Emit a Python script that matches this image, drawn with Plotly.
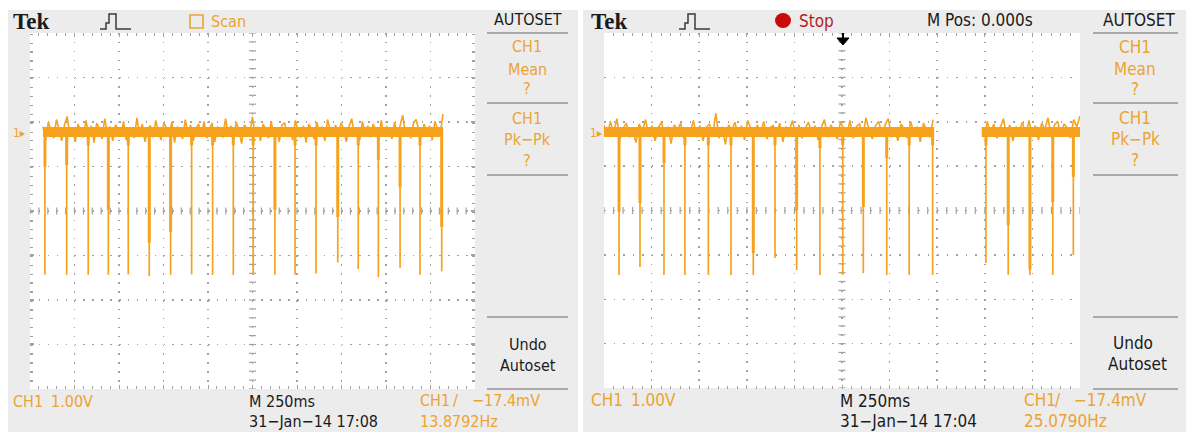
import numpy as np
import plotly.graph_objects as go

W, H = 1186, 432

# ---------------- data (read from the two scope captures) ----------------
# time in seconds (250 ms/div, 10 div), voltage in volts (1 V/div), 0 V = CH1 ground marker
left_segments = [(0.073, 2.320)]
left_spike_t = [0.084, 0.206, 0.327, 0.440, 0.552, 0.670, 0.790, 0.908, 1.026, 1.142,
                1.254, 1.376, 1.489, 1.607, 1.729, 1.844, 1.957, 2.079, 2.191, 2.313]
left_spike_min = [-3.21, -3.21, -3.21, -3.21, -3.20, -3.24, -3.21, -3.20, -3.21, -3.21,
                  -3.21, -3.21, -3.21, -3.18, -2.93, -3.08, -3.26, -3.05, -3.21, -3.13]
left_spike_thick = [-0.79, -0.74, -0.30, -1.75, -0.30, -2.49, -2.25, -0.30, -0.30, -0.30,
                    -0.30, -1.75, -0.30, -0.30, -1.91, -0.30, -0.63, -1.24, -0.30, -2.13]
left_noise = [0.12, -0.18, 0.22, 0.05, -0.14, 0.28, 0.02, -0.20, 0.16, 0.35, -0.08, 0.10, -0.22, 0.18, 0.04, -0.12, 0.26, -0.06, 0.14, -0.24,
              0.20, 0.08, -0.16, 0.30, -0.02, 0.12, -0.20, 0.16, 0.06, -0.10, 0.24, -0.18, 0.10, 0.02, -0.14, 0.32, -0.06, 0.18, -0.22, 0.08,
              0.14, -0.12, 0.26, 0.00, -0.18, 0.20, 0.10, -0.08, 0.22, -0.24, 0.12, 0.04, -0.16, 0.28, -0.04, 0.16, -0.20, 0.08, 0.18, -0.10,
              0.24, -0.14, 0.06, 0.20, -0.22, 0.12, 0.02, -0.12, 0.30, -0.06, 0.14, -0.18, 0.22, 0.04, -0.26, 0.16, 0.08, -0.10, 0.34, -0.04,
              0.12, -0.20, 0.18, 0.06, -0.14, 0.24, -0.08, 0.10, -0.22, 0.16, 0.20, -0.06, 0.08, -0.18, 0.26, 0.02, -0.12, 0.14, -0.24, 0.18,
              0.06, -0.16, 0.22, -0.02, 0.12, -0.20, 0.28, 0.04, -0.10, 0.16, -0.14, 0.20, 0.08, -0.22, 0.12, 0.30, -0.06, 0.10, -0.18, 0.24,
              -0.04, 0.14, -0.12, 0.18, 0.02, -0.20, 0.26, -0.08, 0.12, 0.06, -0.16, 0.22, -0.10, 0.16, 0.38, -0.06, 0.10, -0.14, 0.20, 0.28,
              0.04, -0.12, 0.18, -0.08, 0.14, -0.18, 0.24, 0.06, -0.04, 0.40]

right_segments = [(0.0, 1.733), (1.984, 2.5)]
right_spike_t = [0.079, 0.189, 0.315, 0.425, 0.548, 0.667, 0.784, 0.898, 1.012, 1.134,
                 1.254, 1.362, 1.485, 1.603, 1.726, 2.006, 2.123, 2.237, 2.357, 2.465]
right_spike_min = [-3.22, -3.04, -3.22, -3.22, -3.22, -3.22, -3.22, -2.84, -3.11, -3.22,
                   -3.22, -3.18, -3.22, -3.22, -3.22, -2.95, -3.22, -3.22, -3.22, -2.77]
right_spike_thick = [-1.80, -1.60, -0.70, -0.30, -0.30, -0.30, -2.73, -0.30, -1.76, -0.36,
                     -0.30, -1.69, -0.59, -0.30, -0.30, -0.30, -2.10, -3.10, -1.58, -1.01]
right_noise = [0.16, -0.10, 0.24, -0.04, 0.30, -0.16, 0.08, 0.20, -0.12, 0.06, -0.24, 0.18, 0.02, 0.28, -0.08, 0.14, -0.20, 0.10, 0.22, -0.06,
               0.12, -0.26, 0.16, 0.04, 0.20, -0.14, 0.08, -0.02, 0.26, -0.12, 0.14, -0.20, 0.10, 0.18, -0.06, 0.42, -0.14, 0.12, -0.28, 0.16,
               0.04, 0.22, -0.10, 0.14, -0.18, 0.26, 0.06, -0.12, 0.16, -0.04, 0.24, -0.16, 0.10, 0.14, -0.08, 0.20, -0.22, 0.12, 0.04, 0.26,
               -0.10, 0.16, -0.14, 0.08, 0.22, -0.04, 0.14, -0.18, 0.10, 0.28, -0.12, 0.16, 0.02, -0.16, 0.22, 0.08, -0.06, 0.26, -0.14, 0.12,
               0.18, -0.10, 0.32, 0.04, -0.16, 0.14, 0.24, -0.08, 0.16, 0.30, -0.12, 0.10, -0.20, 0.18, 0.06, -0.14, 0.24, -0.04, 0.12, -0.22,
               0.20, 0.02, -0.12, 0.28, -0.06, 0.16, -0.18, 0.10, 0.22, -0.10, 0.14, 0.06, -0.20, 0.26, -0.02, 0.12, -0.16, 0.20, 0.08, -0.12,
               0.24, -0.06, 0.18, -0.14, 0.10, 0.30, -0.08, 0.16, -0.20, 0.12, 0.04, 0.22, -0.10, 0.26, -0.04, 0.14, -0.18, 0.20, 0.06, 0.32,
               -0.12, 0.16, 0.24, -0.06, 0.18, 0.10, -0.14, 0.28, 0.12, 0.36]

# ---------------- style ----------------
TRACE = '#f6a21d'
ORANGE_TXT = '#eca331'
PANEL = '#ececec'
GRID = '#a2a2a2'
SANS = 'DejaVu Sans Condensed, Liberation Sans Narrow, sans-serif'
SERIF = 'Liberation Serif, DejaVu Serif, serif'


def X(px):
    return px / W


def Y(py):
    return 1 - py / H


def build_traces(segments, spike_t, spike_min, spike_thick, noise, xa, ya):
    bx, by = [], []
    for a, b in segments:
        bx += [a, b, None]
        by += [0, 0, None]
    tn = np.linspace(segments[0][0], segments[-1][1], len(noise))
    nx, ny = [], []
    prev_in = False
    for t, v in zip(tn, noise):
        inside = any(a <= t <= b for a, b in segments)
        if inside:
            nx.append(t)
            ny.append(v)
        elif prev_in:
            nx.append(None)
            ny.append(None)
        prev_in = inside
    sx, sy, tx, ty = [], [], [], []
    for t, m, th in zip(spike_t, spike_min, spike_thick):
        sx += [t, t, None]
        sy += [0.05, m, None]
        tx += [t, t, None]
        ty += [0.1, th, None]
    common = dict(xaxis=xa, yaxis=ya, mode='lines', hoverinfo='skip', showlegend=False)
    return [
        go.Scatter(x=bx, y=by, line=dict(color=TRACE, width=10), **common),
        go.Scatter(x=nx, y=ny, line=dict(color=TRACE, width=1.6), **common),
        go.Scatter(x=sx, y=sy, line=dict(color=TRACE, width=1.7), **common),
        go.Scatter(x=tx, y=ty, line=dict(color=TRACE, width=3), **common),
    ]


def crosshair(xa, ya, yr):
    ymid = yr[1] - 4
    yt = [yr[0] + k * 0.2 for k in range(41)]
    xt = [k * 0.05 for k in range(51)]
    common = dict(xaxis=xa, yaxis=ya, mode='markers', hoverinfo='skip', showlegend=False)
    return [
        go.Scatter(x=[1.25] * len(yt), y=yt,
                   marker=dict(symbol='line-ew', size=5, line=dict(color=GRID, width=1.2)), **common),
        go.Scatter(x=xt, y=[ymid] * len(xt),
                   marker=dict(symbol='line-ns', size=5, line=dict(color=GRID, width=1.2)), **common),
    ]


fig = go.Figure()

yr_left = [-5.775, 2.225]
yr_right = [-5.769, 2.231]

for tr in crosshair('x', 'y', yr_left) + crosshair('x2', 'y2', yr_right):
    fig.add_trace(tr)
for tr in build_traces(left_segments, left_spike_t, left_spike_min, left_spike_thick,
                       left_noise, 'x', 'y'):
    fig.add_trace(tr)
for tr in build_traces(right_segments, right_spike_t, right_spike_min, right_spike_thick,
                       right_noise, 'x2', 'y2'):
    fig.add_trace(tr)


def xax(domain, dash):
    return dict(domain=domain, range=[0, 2.5], tick0=0, dtick=0.25, showgrid=True,
                gridcolor=GRID, griddash=dash, gridwidth=1.5, zeroline=False,
                showticklabels=False, ticks='inside', ticklen=4, tickcolor=GRID,
                mirror='ticks', showline=False, fixedrange=True,
                minor=dict(dtick=0.05, ticks='inside', ticklen=3, tickcolor=GRID, showgrid=False))


def yax(domain, rng, dash):
    return dict(domain=domain, range=rng, tick0=rng[0], dtick=1, showgrid=True,
                gridcolor=GRID, griddash=dash, gridwidth=1.5, zeroline=False,
                showticklabels=False, ticks='inside', ticklen=4, tickcolor=GRID,
                mirror='ticks', showline=False, fixedrange=True,
                minor=dict(dtick=0.2, ticks='inside', ticklen=3, tickcolor=GRID, showgrid=False))


shapes = []
# panels
shapes.append(dict(type='rect', xref='paper', yref='paper', x0=X(8), x1=X(578), y0=Y(432), y1=Y(10),
                   fillcolor=PANEL, line=dict(width=0), layer='below'))
shapes.append(dict(type='rect', xref='paper', yref='paper', x0=X(583), x1=X(1186), y0=Y(432), y1=Y(10),
                   fillcolor=PANEL, line=dict(width=0), layer='below'))
# screen areas
shapes.append(dict(type='rect', xref='paper', yref='paper', x0=X(30), x1=X(475), y0=Y(389), y1=Y(33),
                   fillcolor='white', line=dict(width=0), layer='below'))
shapes.append(dict(type='rect', xref='paper', yref='paper', x0=X(604), x1=X(1080), y0=Y(388), y1=Y(33),
                   fillcolor='white', line=dict(width=0), layer='below'))

# menu separators
for x0, x1 in [(487, 568), (1093, 1178)]:
    for py in [33, 103, 175, 317, 389]:
        shapes.append(dict(type='line', xref='paper', yref='paper', x0=X(x0), x1=X(x1),
                           y0=Y(py), y1=Y(py), line=dict(color='#a8a8a8', width=2)))


def path_px(pts):
    s = ''
    for i, (px, py) in enumerate(pts):
        s += ('M' if i == 0 else 'L') + f'{X(px):.5f},{Y(py):.5f} '
    return s


# pulse icons
for ox in [100, 679]:
    shapes.append(dict(type='path', xref='paper', yref='paper',
                       path=path_px([(ox, 29), (ox + 6, 29), (ox + 6, 23), (ox + 9, 23), (ox + 9, 14),
                                     (ox + 16, 14), (ox + 16, 29), (ox + 31, 29)]),
                       line=dict(color='#3a3a3a', width=1.5)))
# scan square
shapes.append(dict(type='rect', xref='paper', yref='paper', x0=X(190), x1=X(203), y0=Y(28), y1=Y(15),
                   line=dict(color=ORANGE_TXT, width=1.6)))
# stop marker
shapes.append(dict(type='circle', xref='paper', yref='paper', x0=X(775), x1=X(791), y0=Y(28), y1=Y(13),
                   fillcolor='#c80a0a', line=dict(width=0)))
# trigger position arrow
shapes.append(dict(type='path', xref='paper', yref='paper',
                   path=path_px([(837, 38), (849, 38), (843, 45)]) + 'Z',
                   fillcolor='black', line=dict(color='black', width=1)))
shapes.append(dict(type='line', xref='paper', yref='paper', x0=X(843), x1=X(843), y0=Y(33), y1=Y(39),
                   line=dict(color='black', width=2)))

ann = []


def text(t, px, py, size=16, color='#1a1a1a', anchor='left', family=SANS, bold=False):
    if bold:
        t = '<b>' + t + '</b>'
    ann.append(dict(text=t, x=X(px), y=Y(py), xref='paper', yref='paper', xanchor=anchor,
                    yanchor='middle', showarrow=False, font=dict(size=size, color=color, family=family)))


# left scope
text('Tek', 11, 21, size=23, family=SERIF, bold=True)
text('Scan', 209, 21, color=ORANGE_TXT)
text('AUTOSET', 528, 20, anchor='center')
text('CH1', 527, 47, color=ORANGE_TXT, anchor='center')
text('Mean', 527, 69, color=ORANGE_TXT, anchor='center')
text('?', 527, 89, color=ORANGE_TXT, anchor='center')
text('CH1', 527, 118, color=ORANGE_TXT, anchor='center')
text('Pk−Pk', 527, 139, color=ORANGE_TXT, anchor='center')
text('?', 527, 160, color=ORANGE_TXT, anchor='center')
text('Undo', 528, 344, anchor='center')
text('Autoset', 528, 365, anchor='center')
text('1▸', 11, 133, size=12, color=ORANGE_TXT)
text('CH1', 11, 401, color=ORANGE_TXT)
text('1.00V', 49, 401, color=ORANGE_TXT)
text('M 250ms', 247, 401)
text('31−Jan−14 17:08', 247, 421)
text('CH1', 418, 400, color=ORANGE_TXT)
text('/', 456, 400, color=ORANGE_TXT, anchor='center')
text('−17.4mV', 470, 400, color=ORANGE_TXT)
text('13.8792Hz', 418, 421, color=ORANGE_TXT)

# right scope
RS = 17
text('Tek', 589, 21, size=23, family=SERIF, bold=True)
text('Stop', 797, 21, size=RS, color='#b41e1e')
text('M Pos: 0.000s', 980, 20, size=RS, anchor='center')
text('AUTOSET', 1139, 20, size=RS, anchor='center')
text('CH1', 1135, 47, size=RS, color=ORANGE_TXT, anchor='center')
text('Mean', 1135, 69, size=RS, color=ORANGE_TXT, anchor='center')
text('?', 1135, 89, size=RS, color=ORANGE_TXT, anchor='center')
text('CH1', 1135, 118, size=RS, color=ORANGE_TXT, anchor='center')
text('Pk−Pk', 1135, 139, size=RS, color=ORANGE_TXT, anchor='center')
text('?', 1135, 160, size=RS, color=ORANGE_TXT, anchor='center')
text('Undo', 1133, 343, size=RS, anchor='center')
text('Autoset', 1137, 364, size=RS, anchor='center')
text('1▸', 588, 133, size=12, color=ORANGE_TXT)
text('CH1', 589, 400, size=RS, color=ORANGE_TXT)
text('1.00V', 629, 400, size=RS, color=ORANGE_TXT)
text('M 250ms', 838, 401, size=RS)
text('31−Jan−14 17:04', 838, 421, size=RS)
text('CH1', 1022, 400, size=RS, color=ORANGE_TXT)
text('/', 1058, 400, size=RS, color=ORANGE_TXT, anchor='center')
text('−17.4mV', 1072, 400, size=RS, color=ORANGE_TXT)
text('25.0790Hz', 1022, 421, size=RS, color=ORANGE_TXT)

fig.update_layout(
    width=W, height=H, margin=dict(l=0, r=0, t=0, b=0),
    paper_bgcolor='white', plot_bgcolor='rgba(0,0,0,0)',
    xaxis=xax([X(30), X(475)], '1.5px,7.4px'),
    yaxis=yax([Y(389), Y(33)], yr_left, '1.5px,7.4px'),
    xaxis2=xax([X(604), X(1080)], '1.5px,7.375px'),
    yaxis2=yax([Y(388), Y(33)], yr_right, '1.5px,8.02px'),
    shapes=shapes, annotations=ann, showlegend=False,
)

fig.write_html('out.html', config=dict(displayModeBar=False, staticPlot=True))
